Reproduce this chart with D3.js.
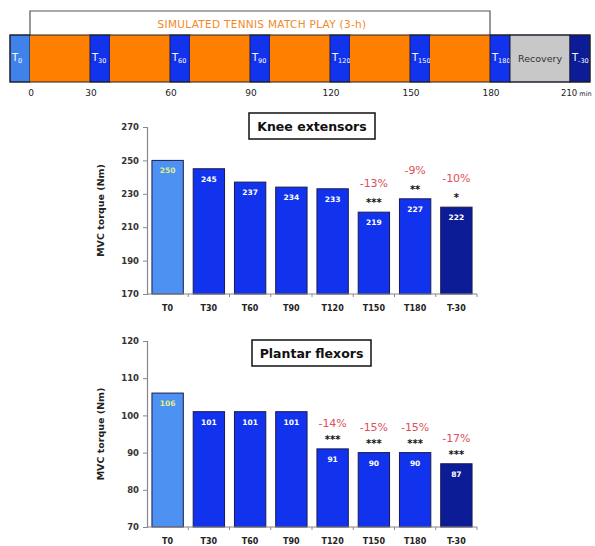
<!DOCTYPE html>
<html><head><meta charset="utf-8">
<script src="https://cdn.jsdelivr.net/npm/d3@7/dist/d3.min.js"></script>
<style>body{margin:0;background:#fff;} svg{display:block;}</style>
</head><body>
<svg id="c" width="595" height="546"></svg>
<script>
// ---------- data ----------
const categories = ["T0","T30","T60","T90","T120","T150","T180","T-30"];
const kneeValues = [250,245,237,234,233,219,227,222];
const kneePct = ["","","","","","-13%","-9%","-10%"];
const kneeSig = ["","","","","","***","**","*"];
const kneeTicks = [170,190,210,230,250,270];
const plantarValues = [106,101,101,101,91,90,90,87];
const plantarPct = ["","","","","-14%","-15%","-15%","-17%"];
const plantarSig = ["","","","","***","***","***","***"];
const plantarTicks = [70,80,90,100,110,120];

// timeline schematic: kind, subscript label, schematic length units, start time (min) if ticked
const segKinds = ["pre","play","test","play","test","play","test","play","test","play","test","play","test","rec","post"];
const segSubs  = ["0","","30","","60","","90","","120","","150","","180","","-30"];
const segUnits = [1,3,1,3,1,3,1,3,1,3,1,3,1,3,1];
const segStart = [null,0,30,null,60,null,90,null,120,null,150,null,180,null,210];
const timeTickLabels = ["0","30","60","90","120","150","180","210"];
const timeUnit = "min";
const timelineTitle = "SIMULATED TENNIS MATCH PLAY (3-h)";

const colors = {pre:"#3f82ea", play:"#ff7f00", test:"#1233ee", rec:"#c8c8c8", post:"#0b1c96"};
const barColor = i => i === 0 ? "#4d92f2" : (i === categories.length-1 ? "#0b1c96" : "#1233ee");

const svg = d3.select("#c");
const FONT = "'DejaVu Sans', sans-serif";

// ---------- timeline ----------
const cum = [0];
segUnits.forEach((u,i)=>cum.push(cum[i]+u));
const tx = d3.scaleLinear().domain([0, cum[cum.length-1]]).range([10, 590]);
const tl = svg.append("g");
const tTop = 35, tBot = 82;

// bracket
const playStart = tx(cum[1]), playEnd = tx(cum[12]);
tl.append("path")
  .attr("d", `M${playStart},${tTop} V11 H${playEnd} V${tTop}`)
  .attr("fill","none").attr("stroke","#555").attr("stroke-width",1.2);
tl.append("text").attr("x",(playStart+playEnd)/2+2).attr("y",28)
  .attr("text-anchor","middle").attr("font-family",FONT).attr("font-size",10.5)
  .attr("letter-spacing","0.3").attr("fill","#f08a2a").text(timelineTitle);

segKinds.forEach((k,i)=>{
  const x0 = tx(cum[i]), x1 = tx(cum[i+1]);
  tl.append("rect").attr("x",x0).attr("y",tTop).attr("width",x1-x0).attr("height",tBot-tTop)
    .attr("fill",colors[k]).attr("stroke", k==="play" ? "none" : "#1a1a40").attr("stroke-width",1);
  if (segSubs[i] !== "") {
    const t = tl.append("text").attr("x",x0+2).attr("y",61).attr("font-family",FONT)
      .attr("font-size",10).attr("fill","#fff");
    t.append("tspan").text("T");
    t.append("tspan").attr("font-size",6.5).attr("dy",2).text(segSubs[i]);
  }
  if (k === "rec") {
    tl.append("text").attr("x",(x0+x1)/2).attr("y",62).attr("text-anchor","middle")
      .attr("font-family",FONT).attr("font-size",9.5).attr("fill","#333").text("Recovery");
  }
});
tl.append("rect").attr("x",tx(0)).attr("y",tTop).attr("width",tx(cum[cum.length-1])-tx(0))
  .attr("height",tBot-tTop).attr("fill","none").attr("stroke","#222").attr("stroke-width",1);

let tickIdx = 0;
segStart.forEach((s,i)=>{
  if (s === null) return;
  const lab = timeTickLabels[tickIdx++];
  const last = tickIdx === timeTickLabels.length;
  const t = tl.append("text").attr("x", last ? tx(cum[i]) - 9 : tx(cum[i]) + 1).attr("y",96)
    .attr("text-anchor", last ? "start" : "middle")
    .attr("font-family",FONT).attr("font-size",last ? 8.5 : 9).attr("fill","#222");
  t.append("tspan").text(lab);
  if (last) t.append("tspan").attr("font-size",6.5).text(" " + timeUnit);
});

// ---------- bar charts ----------
function barChart(cfg){
  const g = svg.append("g");
  const x = d3.scaleBand().domain(categories).range([147,477]).paddingInner(0.24).paddingOuter(0.12);
  const y = d3.scaleLinear().domain([cfg.ticks[0], cfg.ticks[cfg.ticks.length-1]]).range([cfg.bottom, cfg.top]);

  const yAxis = g.append("g").attr("transform","translate(147,0)")
    .call(d3.axisLeft(y).tickValues(cfg.ticks).tickSize(4).tickPadding(4));
  yAxis.select(".domain").attr("stroke","#888").attr("stroke-width",1.2);
  yAxis.selectAll(".tick line").attr("stroke","#888");
  yAxis.selectAll(".tick text").attr("font-family",FONT).attr("font-size",8.5)
    .attr("font-weight","bold").attr("fill","#333");

  // bars
  g.selectAll("rect.bar").data(cfg.values).join("rect").attr("class","bar")
    .attr("x",(d,i)=>x(categories[i])).attr("y",d=>y(d))
    .attr("width",x.bandwidth()).attr("height",d=>y(cfg.ticks[0])-y(d))
    .attr("fill",(d,i)=>barColor(i)).attr("stroke","#1a1a50").attr("stroke-width",1);

  // x axis
  g.append("line").attr("x1",147).attr("x2",477).attr("y1",cfg.bottom).attr("y2",cfg.bottom)
    .attr("stroke","#888").attr("stroke-width",1.2);
  const step = x.step();
  d3.range(1, categories.length+1).forEach(i=>{
    const bx = 147 + i*step;
    g.append("line").attr("x1",bx).attr("x2",bx).attr("y1",cfg.bottom).attr("y2",cfg.bottom+3)
      .attr("stroke","#888");
  });
  g.selectAll("text.cat").data(categories).join("text").attr("class","cat")
    .attr("x",d=>x(d)+x.bandwidth()/2).attr("y",cfg.bottom+17).attr("text-anchor","middle")
    .attr("font-family",FONT).attr("font-size",8).attr("font-weight","bold").attr("fill","#222")
    .text(d=>d);

  // value labels
  g.selectAll("text.val").data(cfg.values).join("text").attr("class","val")
    .attr("x",(d,i)=>x(categories[i])+x.bandwidth()/2).attr("y",d=>y(d)+13)
    .attr("text-anchor","middle").attr("font-family",FONT).attr("font-size",7.5)
    .attr("font-weight","bold").attr("fill",(d,i)=> i===0 ? "#e0f080" : "#fff").text(d=>d);

  // significance
  g.selectAll("text.sig").data(cfg.values).join("text").attr("class","sig")
    .attr("x",(d,i)=>x(categories[i])+x.bandwidth()/2).attr("y",d=>y(d)-6)
    .attr("text-anchor","middle").attr("font-family",FONT).attr("font-size",10)
    .attr("font-weight","bold").attr("fill","#111").text((d,i)=>cfg.sig[i]);
  g.selectAll("text.pct").data(cfg.values).join("text").attr("class","pct")
    .attr("x",(d,i)=>x(categories[i])+x.bandwidth()/2).attr("y",d=>y(d)-cfg.pctOffset)
    .attr("text-anchor","middle").attr("font-family",FONT).attr("font-size",11)
    .attr("fill","#e0505a").text((d,i)=>cfg.pct[i]);

  // y title
  g.append("text").attr("transform",`translate(104,${(cfg.top+cfg.bottom)/2}) rotate(-90)`)
    .attr("text-anchor","middle").attr("font-family",FONT).attr("font-size",9.5)
    .attr("font-weight","bold").attr("fill","#222").text("MVC torque (Nm)");

  // title box
  g.append("rect").attr("x",cfg.box[0]).attr("y",cfg.box[1]).attr("width",cfg.box[2]).attr("height",cfg.box[3])
    .attr("fill","#fff").attr("stroke","#111").attr("stroke-width",1.5);
  g.append("text").attr("x",cfg.box[0]+cfg.box[2]/2).attr("y",cfg.box[1]+cfg.box[3]/2+4.5)
    .attr("text-anchor","middle").attr("font-family",FONT).attr("font-size",12.5)
    .attr("font-weight","bold").attr("fill","#111").text(cfg.title);
}

barChart({values:kneeValues, ticks:kneeTicks, pct:kneePct, sig:kneeSig, top:127, bottom:294,
  title:"Knee extensors", box:[249,113,126,26], pctOffset:25});
barChart({values:plantarValues, ticks:plantarTicks, pct:plantarPct, sig:plantarSig, top:341, bottom:527,
  title:"Plantar flexors", box:[252,340,119,26], pctOffset:22});
</script>
</body></html>
